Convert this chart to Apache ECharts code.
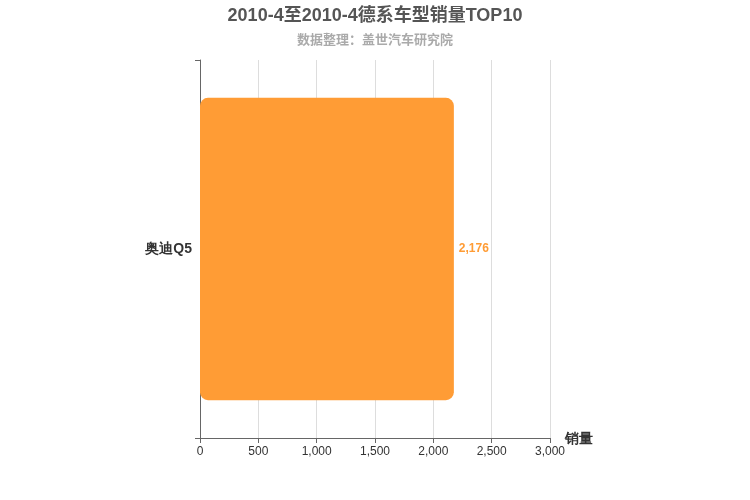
<!DOCTYPE html>
<html><head><meta charset="utf-8">
<script src="https://cdn.jsdelivr.net/npm/echarts@6/dist/echarts.min.js"></script>
<style>html,body{margin:0;padding:0;background:#fff}#c{width:750px;height:500px}</style>
</head><body><div id="c"></div>
<script>
const categories = ['奥迪Q5'];
const sales = [2176];
const xTicks = [0, 500, 1000, 1500, 2000, 2500, 3000];

const chart = echarts.init(document.getElementById('c'));
chart.setOption({
  backgroundColor: '#fff',
  title: {
    text: '2010-4至2010-4德系车型销量TOP10',
    subtext: '数据整理：盖世汽车研究院',
    left: 'center', top: 2, itemGap: 9,
    textStyle: {fontSize: 18, fontWeight: 'bold', color: '#555', fontFamily: 'Arial, "Noto Sans CJK SC", sans-serif'},
    subtextStyle: {fontSize: 13, fontWeight: 'bold', color: '#aaa', fontFamily: 'Arial, "Noto Sans CJK SC", sans-serif'}
  },
  grid: {left: 200, right: 200, top: 60, bottom: 62, containLabel: false},
  xAxis: {
    type: 'value', min: xTicks[0], max: xTicks[xTicks.length - 1], interval: 500,
    name: '销量', nameLocation: 'end', nameGap: 15,
    nameTextStyle: {fontSize: 14, fontWeight: 'bold', color: '#333', verticalAlign: 'top', padding: [-6, 0, 0, 0]},
    axisLine: {show: true, lineStyle: {color: '#666'}},
    axisTick: {show: true, lineStyle: {color: '#666'}},
    axisLabel: {color: '#333', fontSize: 12, formatter: v => v.toLocaleString('en-US')},
    splitLine: {show: true, lineStyle: {color: '#ddd'}}
  },
  yAxis: {
    type: 'category', data: categories,
    axisLine: {show: true, lineStyle: {color: '#666'}},
    axisTick: {show: true, lineStyle: {color: '#666'}},
    axisLabel: {color: '#333', fontSize: 14, fontWeight: 'bold'}
  },
  series: [{
    type: 'bar', data: sales, barWidth: '80%',
    itemStyle: {color: '#FF9C35', borderRadius: 8},
    label: {show: true, position: 'right', color: '#FF9C35', fontWeight: 'bold', fontSize: 12,
      formatter: p => p.value.toLocaleString('en-US')}
  }]
});
</script></body></html>
